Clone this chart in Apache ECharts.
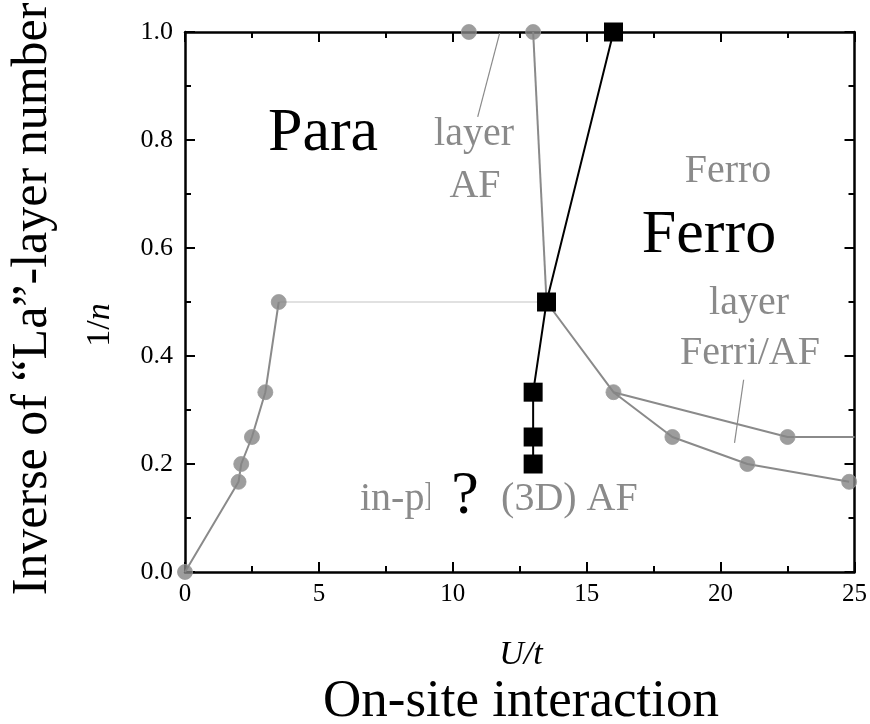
<!DOCTYPE html>
<html>
<head>
<meta charset="utf-8">
<script src="https://cdn.jsdelivr.net/npm/echarts@6/dist/echarts.min.js"></script>
<style>
  html, body { margin: 0; padding: 0; background: #fff; }
  #chart { width: 870px; height: 724px; }
</style>
</head>
<body>
<div id="chart"></div>
<script>
// ---- data (U/t , 1/n) ----
const boundaryU      = [0, 2.0, 2.1, 2.5, 3.0, 3.5];
const boundaryInvN   = [0, 0.167, 0.2, 0.25, 0.333, 0.5];
const paraEdgeU      = [3.5, 13.5];
const paraEdgeInvN   = [0.5, 0.5];
const layerAFU       = [13.0, 13.5];
const layerAFInvN    = [1.0, 0.5];
const ferriAU        = [13.5, 16.0, 18.2, 21.0, 24.8];
const ferriAInvN     = [0.5, 0.333, 0.25, 0.2, 0.167];
const ferriBU        = [16.0, 22.5, 25.0];
const ferriBInvN     = [0.333, 0.25, 0.25];
const ferroU         = [16.0, 13.5, 13.0, 13.0, 13.0];
const ferroInvN      = [1.0, 0.5, 0.333, 0.25, 0.2];
const circleU        = [0, 2.0, 2.1, 2.5, 3.0, 3.5, 10.6, 13.0, 16.0, 18.2, 21.0, 24.8, 22.5];
const circleInvN     = [0, 0.167, 0.2, 0.25, 0.333, 0.5, 1.0, 1.0, 0.333, 0.25, 0.2, 0.167, 0.25];
const leaderAFU      = [11.75, 10.93];
const leaderAFInvN   = [0.998, 0.843];
const leaderFerriU   = [20.86, 20.52];
const leaderFerriInvN= [0.356, 0.239];
const xTickValues    = [0, 5, 10, 15, 20, 25];
const yTickLabels    = ['0.0', '0.2', '0.4', '0.6', '0.8', '1.0'];

const zip = (a, b) => a.map((v, i) => [v, b[i]]);

const SERIF = "'Liberation Serif', 'Times New Roman', serif";
const GRAY = '#8a8a8a';

const chart = echarts.init(document.getElementById('chart'), null, { renderer: 'canvas' });

const axisCommon = {
  axisLine: { show: true, onZero: false, lineStyle: { color: '#000', width: 2.5 } },
  axisTick: { show: true, inside: true, length: 10, lineStyle: { color: '#000', width: 2 } },
  minorTick: { show: true, splitNumber: 2, length: 6, lineStyle: { color: '#000', width: 2 } },
  splitLine: { show: false }
};

function text(x, y, str, size, color, opts) {
  opts = opts || {};
  return {
    type: 'text', x: x, y: y, z: 100, rotation: opts.rotation || 0,
    style: {
      text: str, fill: color,
      fontSize: size, fontFamily: SERIF, fontStyle: opts.italic ? 'italic' : 'normal',
      textAlign: opts.align || 'center', textVerticalAlign: 'middle',
      align: opts.align || 'center', verticalAlign: 'middle',
      rich: opts.rich
    }
  };
}

const option = {
  backgroundColor: '#fff',
  animation: false,
  grid: { left: 185, right: 15, top: 32, bottom: 152, containLabel: false },
  xAxis: [
    Object.assign({}, axisCommon, {
      type: 'value', min: 0, max: 25, interval: 5, position: 'bottom',
      axisLabel: { show: true, margin: 10, color: '#000', fontSize: 25, fontFamily: SERIF,
        formatter: v => xTickValues.includes(v) ? String(v) : '' }
    }),
    Object.assign({}, axisCommon, {
      type: 'value', min: 0, max: 25, interval: 5, position: 'top',
      axisLabel: { show: false }
    })
  ],
  yAxis: [
    Object.assign({}, axisCommon, {
      type: 'value', min: 0, max: 1, interval: 0.2, position: 'left',
      axisLabel: { show: true, margin: 12, color: '#000', fontSize: 26, fontFamily: SERIF,
        formatter: v => yTickLabels[Math.round(v / 0.2)] }
    }),
    Object.assign({}, axisCommon, {
      type: 'value', min: 0, max: 1, interval: 0.2, position: 'right',
      axisLabel: { show: false }
    })
  ],
  series: [
    { type: 'line', data: zip(paraEdgeU, paraEdgeInvN), symbol: 'none',
      lineStyle: { color: '#c4c4c4', width: 1.2 }, z: 2 },
    { type: 'line', data: zip(boundaryU, boundaryInvN), symbol: 'none',
      lineStyle: { color: GRAY, width: 2 }, z: 3 },
    { type: 'line', data: zip(layerAFU, layerAFInvN), symbol: 'none',
      lineStyle: { color: GRAY, width: 2 }, z: 3 },
    { type: 'line', data: zip(ferriAU, ferriAInvN), symbol: 'none',
      lineStyle: { color: GRAY, width: 2 }, z: 3 },
    { type: 'line', data: zip(ferriBU, ferriBInvN), symbol: 'none',
      lineStyle: { color: GRAY, width: 2 }, z: 3 },
    { type: 'line', data: zip(leaderAFU, leaderAFInvN), symbol: 'none',
      lineStyle: { color: GRAY, width: 1.2 }, z: 3 },
    { type: 'line', data: zip(leaderFerriU, leaderFerriInvN), symbol: 'none',
      lineStyle: { color: GRAY, width: 1.2 }, z: 3 },
    { type: 'scatter', data: zip(circleU, circleInvN), symbol: 'circle', symbolSize: 15,
      itemStyle: { color: '#858585', borderColor: '#9a9a9a', borderWidth: 1 }, z: 4 },
    { type: 'line', data: zip(ferroU, ferroInvN), symbol: 'rect', symbolSize: 19,
      itemStyle: { color: '#000', borderWidth: 0 }, lineStyle: { color: '#000', width: 2 }, z: 5 }
  ],
  graphic: [
    // gray labels
    text(728, 171, 'Ferro', 40, GRAY),
    text(474, 134.5, 'layer', 40, GRAY),
    text(475, 186, 'AF', 40, GRAY),
    text(749, 303.5, 'layer', 40, GRAY),
    text(750, 353.5, 'Ferri/AF', 40, GRAY),
    text(360, 499.5, 'in-plane (3D) AF', 40, GRAY, { align: 'left' }),
    // white boxes
    { type: 'rect', z: 101, shape: { x: 430, y: 447, width: 67, height: 96 }, style: { fill: '#fff' } },
    { type: 'rect', z: 101, shape: { x: 620, y: 184, width: 180, height: 100 }, style: { fill: '#fff' } },
    // black labels
    Object.assign(text(465, 497, '?', 62, '#000'), { z: 102 }),
    Object.assign(text(709, 236, 'Ferro', 62, '#000'), { z: 102 }),
    text(323, 134, 'Para', 62, '#000'),
    // axis titles
    text(521, 655, 'U/t', 34, '#000', { italic: true }),
    text(521, 702, 'On-site interaction', 53, '#000'),
    text(100.5, 325, '{a|1/}{b|n}', 34, '#000', {
      rotation: Math.PI / 2,
      rich: {
        a: { fontSize: 34, fontFamily: SERIF, fontStyle: 'normal', fill: '#000', color: '#000' },
        b: { fontSize: 34, fontFamily: SERIF, fontStyle: 'italic', fill: '#000', color: '#000' }
      }
    }),
    text(33, 299, 'Inverse of \u201cLa\u201d-layer number', 50, '#000', { rotation: Math.PI / 2 })
  ]
};

chart.setOption(option);
</script>
</body>
</html>
